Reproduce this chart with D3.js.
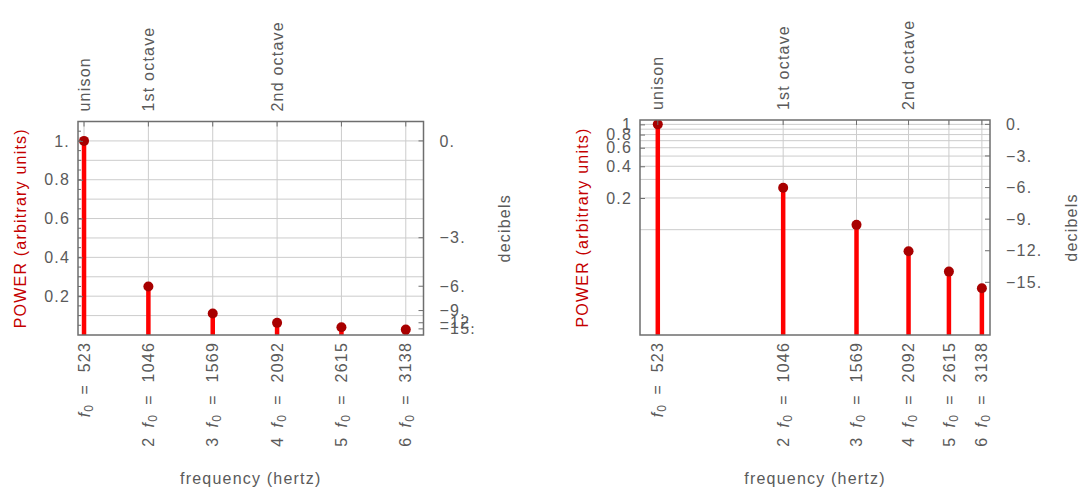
<!DOCTYPE html>
<html>
<head>
<meta charset="utf-8">
<script src="https://cdn.jsdelivr.net/npm/d3@7"></script>
<style>
  html, body { margin: 0; padding: 0; background: #fff; }
  svg { display: block; }
  text { font-family: "Liberation Sans", Arial, sans-serif; font-size: 16px; fill: #5a5a5a; letter-spacing: 1.2px; }
</style>
</head>
<body>
<svg id="chart" width="1080" height="490"></svg>
<script>
// Harmonic series of a 523 Hz tone: power falls off as 1/n^2
const harmonicNumbers = [1, 2, 3, 4, 5, 6];
const frequencies = [523, 1046, 1569, 2092, 2615, 3138];
const power = [1, 0.25, 0.1111, 0.0625, 0.04, 0.0278];

// Interval labels along the top edge
const intervalFreqs = [523, 1046, 2092];
const intervalNames = ["unison", "1st octave", "2nd octave"];

// Axis ticks
const linPowerTicks = [0.2, 0.4, 0.6, 0.8, 1.0];
const linPowerLabels = ["0.2", "0.4", "0.6", "0.8", "1."];
const logPowerTicks = [0.2, 0.4, 0.6, 0.8, 1.0];
const logPowerLabels = ["0.2", "0.4", "0.6", "0.8", "1"];
const dbTicks = [0, -3, -6, -9, -12, -15];
const dbLabels = ["0.", "\u22123.", "\u22126.", "\u22129.", "\u221212.", "\u221215."];
const gridPower = [0.1, 0.2, 0.3, 0.4, 0.5, 0.6, 0.7, 0.8, 0.9, 1.0];
const minorLinTicks = d3.range(0.05, 1.1, 0.05);

const freqDomain = [474, 3282];

const svg = d3.select("#chart");

const panels = [
  {
    id: "lin",
    x: d3.scaleLinear().domain(freqDomain).range([78, 423.5]),
    y: d3.scaleLinear().domain([0, 1.1]).range([335, 121.5]),
    powerTicks: linPowerTicks, powerLabels: linPowerLabels, minor: minorLinTicks
  },
  {
    id: "log",
    x: d3.scaleLog().domain(freqDomain).range([640, 990]),
    y: d3.scaleLog().domain([0.01, 1.1]).range([335, 120]),
    powerTicks: logPowerTicks, powerLabels: logPowerLabels, minor: []
  }
];

const dbToPower = d => Math.pow(10, d / 10);

panels.forEach(p => {
  const [x0, x1] = p.x.range();
  const [yb, yt] = p.y.range();
  const g = svg.append("g");

  g.append("clipPath").attr("id", "clip-" + p.id)
    .append("rect").attr("x", x0).attr("y", yt).attr("width", x1 - x0).attr("height", yb - yt);

  // grid
  const grid = g.append("g").attr("stroke", "#cccccc").attr("stroke-width", 1);
  grid.selectAll("line.h").data(gridPower).join("line")
    .attr("x1", x0).attr("x2", x1)
    .attr("y1", d => p.y(d)).attr("y2", d => p.y(d));
  grid.selectAll("line.v").data(frequencies).join("line")
    .attr("x1", d => p.x(d)).attr("x2", d => p.x(d))
    .attr("y1", yt).attr("y2", yb);

  // stems and heads
  const marks = g.append("g").attr("clip-path", "url(#clip-" + p.id + ")");
  marks.selectAll("line").data(frequencies).join("line")
    .attr("x1", d => p.x(d)).attr("x2", d => p.x(d))
    .attr("y1", yb).attr("y2", (d, i) => p.y(power[i]))
    .attr("stroke", "#ff0000").attr("stroke-width", 4.5);
  marks.selectAll("circle").data(frequencies).join("circle")
    .attr("cx", d => p.x(d)).attr("cy", (d, i) => p.y(power[i]))
    .attr("r", 5).attr("fill", "#a80000");

  // frame
  g.append("rect").attr("x", x0).attr("y", yt).attr("width", x1 - x0).attr("height", yb - yt)
    .attr("fill", "none").attr("stroke", "#6e6e6e").attr("stroke-width", 1.5);

  // left power axis (ticks point inward)
  const leftAxis = d3.axisLeft(p.y).tickValues(p.powerTicks)
    .tickFormat((d, i) => p.powerLabels[i]).tickSizeInner(-5).tickSizeOuter(0).tickPadding(8);
  const la = g.append("g").attr("transform", `translate(${x0},0)`).call(leftAxis);
  la.attr("font-size", null).attr("font-family", null);
  la.select(".domain").remove();
  la.selectAll(".tick line").attr("stroke", "#6e6e6e");
  la.selectAll("text").attr("fill", null);
  if (p.minor.length) {
    g.append("g").selectAll("line").data(p.minor).join("line")
      .attr("x1", x0).attr("x2", x0 + 3)
      .attr("y1", d => p.y(d)).attr("y2", d => p.y(d))
      .attr("stroke", "#6e6e6e");
  }

  // right decibel axis
  const dbScale = d => p.y(dbToPower(d));
  const ra = g.append("g").attr("transform", `translate(${x1},0)`);
  ra.selectAll("line").data(dbTicks).join("line")
    .attr("x1", 0).attr("x2", -5).attr("y1", dbScale).attr("y2", dbScale)
    .attr("stroke", "#6e6e6e");
  ra.selectAll("text").data(dbTicks).join("text")
    .attr("x", 16).attr("y", dbScale).attr("dy", "0.35em")
    .text((d, i) => dbLabels[i]);

  // ticks at each harmonic along the top edge
  g.append("g").selectAll("line").data(frequencies).join("line")
    .attr("x1", d => p.x(d)).attr("x2", d => p.x(d))
    .attr("y1", yt).attr("y2", yt + 5).attr("stroke", "#6e6e6e");

  // interval names on top
  g.append("g").selectAll("text").data(intervalFreqs).join("text")
    .attr("transform", d => `translate(${p.x(d)},${yt - 10}) rotate(-90)`)
    .attr("dy", "0.35em").attr("text-anchor", "start")
    .text((d, i) => intervalNames[i]);

  // harmonic frequency labels under the axis
  const bl = g.append("g").selectAll("text").data(frequencies).join("text")
    .attr("transform", d => `translate(${p.x(d)},${yb + 7}) rotate(-90)`)
    .attr("dy", "0.35em").attr("text-anchor", "end");
  bl.each(function (d, i) {
    const t = d3.select(this);
    if (harmonicNumbers[i] > 1) t.append("tspan").text(harmonicNumbers[i] + "\u2002");
    t.append("tspan").attr("font-style", "italic").text("f");
    t.append("tspan").attr("font-size", "12px").attr("dy", 3).text("0");
    t.append("tspan").attr("dy", -3).text("\u2002=\u2002\u200A" + d);
  });

  const cx = (x0 + x1) / 2, cy = (yt + yb) / 2;
  g.append("text").attr("x", cx).attr("y", 484).attr("text-anchor", "middle")
    .text("frequency (hertz)");
  g.append("text").attr("transform", `translate(${x0 - 58},${cy}) rotate(-90)`)
    .attr("dy", "0.35em").attr("text-anchor", "middle")
    .style("fill", "#c40000").text("POWER (arbitrary units)");
  g.append("text").attr("transform", `translate(${x1 + 81},${cy}) rotate(-90)`)
    .attr("dy", "0.35em").attr("text-anchor", "middle")
    .text("decibels");
});
</script>
</body>
</html>
